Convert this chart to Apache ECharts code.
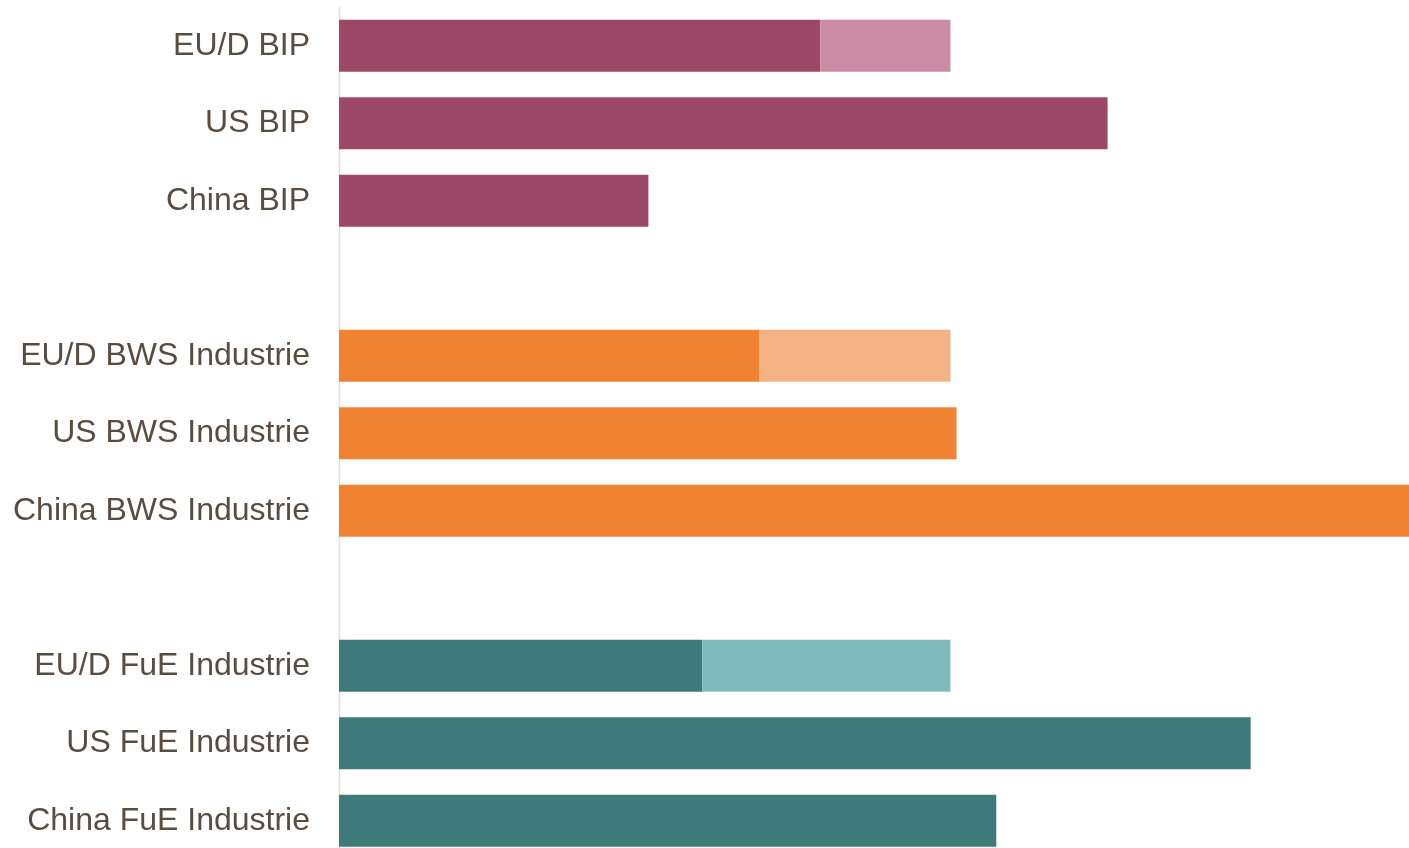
<!DOCTYPE html>
<html>
<head>
<meta charset="utf-8">
<script src="https://cdn.jsdelivr.net/npm/echarts@6/dist/echarts.min.js"></script>
<style>html,body{margin:0;padding:0;background:#fff;}#c{width:1409px;height:848px;}</style>
</head>
<body>
<div id="c"></div>
<script>
// Categories (top to bottom); empty strings are group gaps
var categories = ['EU/D BIP', 'US BIP', 'China BIP', '', 'EU/D BWS Industrie', 'US BWS Industrie', 'China BWS Industrie', '', 'EU/D FuE Industrie', 'US FuE Industrie', 'China FuE Industrie'];
// Main (dark) bar values, index EU/D total = 100
var mainValues = [78.7, 125.7, 50.6, null, 68.7, 101.0, 175, null, 59.4, 149.1, 107.5];
// Total for EU/D rows (light extension reaches this value)
var totalValues = [100, null, null, null, 100, null, null, null, 100, null, null];
// Group of each row (0 = BIP, 1 = BWS, 2 = FuE)
var groups = [0, 0, 0, -1, 1, 1, 1, -1, 2, 2, 2];

var darkColors = ['#9E4868', '#F08232', '#3E7A79'];
var lightColors = ['#CA8BA4', '#F5B385', '#80BBBB'];

var extValues = totalValues.map(function (t, i) {
  return (t == null || mainValues[i] == null) ? '-' : +(t - mainValues[i]).toFixed(2);
});

var chart = echarts.init(document.getElementById('c'));
chart.setOption({
  animation: false,
  grid: { left: 339, right: 0, top: 7, height: 852.5, containLabel: false, outerBoundsMode: 'none' },
  xAxis: { type: 'value', min: 0, max: 175, show: false },
  yAxis: {
    type: 'category',
    data: categories,
    inverse: true,
    axisLine: { show: true, lineStyle: { color: '#E4DDD8', width: 1.4 } },
    axisTick: { show: false },
    splitLine: { show: false },
    axisLabel: {
      color: '#594D42',
      fontSize: 32,
      fontFamily: 'Liberation Sans, Arial, sans-serif',
      margin: 29
    }
  },
  series: [
    {
      type: 'bar',
      stack: 's',
      barWidth: 52,
      data: mainValues.map(function (v) { return v == null ? '-' : v; }),
      itemStyle: { color: function (p) { return darkColors[groups[p.dataIndex]] || '#ccc'; } }
    },
    {
      type: 'bar',
      stack: 's',
      barWidth: 52,
      data: extValues,
      itemStyle: { color: function (p) { return lightColors[groups[p.dataIndex]] || '#ccc'; } }
    }
  ]
});
</script>
</body>
</html>
